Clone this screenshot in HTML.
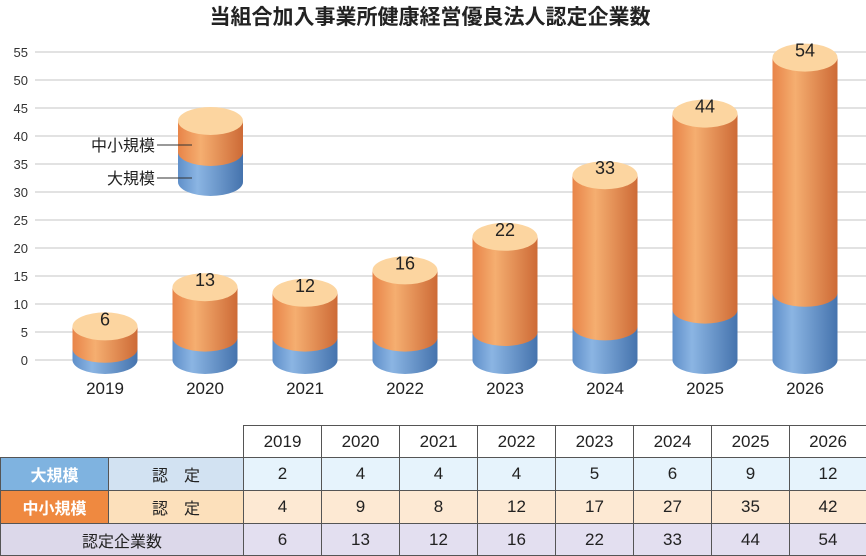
<!DOCTYPE html>
<html><head><meta charset="utf-8"><style>
body{margin:0;width:866px;height:555px;background:#fff;overflow:hidden;font-family:"Liberation Sans","Noto Sans CJK JP",sans-serif;position:relative}
table{position:absolute;left:0;top:425px;border-collapse:collapse;font-size:17px;color:#222;table-layout:fixed;width:866px}
td{border:1px solid #555;text-align:center;height:31px;padding:0}
</style></head><body>
<svg width="866" height="420" style="position:absolute;left:0;top:0" font-family="Liberation Sans, Noto Sans CJK JP, sans-serif">
<defs>
<linearGradient id="b" x1="0" x2="1"><stop offset="0" stop-color="#5f8fc9"/><stop offset="0.3" stop-color="#8bb5e3"/><stop offset="1" stop-color="#4573ad"/></linearGradient>
<linearGradient id="o" x1="0" x2="1"><stop offset="0" stop-color="#e88448"/><stop offset="0.35" stop-color="#f5ae70"/><stop offset="1" stop-color="#cd6a36"/></linearGradient>
</defs>
<text x="430" y="24" text-anchor="middle" font-size="21" font-weight="bold" fill="#222">当組合加入事業所健康経営優良法人認定企業数</text>
<g stroke="#d8d8d8" stroke-width="1.5">
<line x1="35" x2="866" y1="360" y2="360"/><line x1="35" x2="866" y1="332" y2="332"/><line x1="35" x2="866" y1="304" y2="304"/><line x1="35" x2="866" y1="276" y2="276"/><line x1="35" x2="866" y1="248" y2="248"/><line x1="35" x2="866" y1="220" y2="220"/><line x1="35" x2="866" y1="192" y2="192"/><line x1="35" x2="866" y1="164" y2="164"/><line x1="35" x2="866" y1="136" y2="136"/><line x1="35" x2="866" y1="108" y2="108"/><line x1="35" x2="866" y1="80" y2="80"/><line x1="35" x2="866" y1="52" y2="52"/>
</g>
<g font-size="13" fill="#333" text-anchor="end">
<text x="28" y="365">0</text><text x="28" y="337">5</text><text x="28" y="309">10</text><text x="28" y="281">15</text><text x="28" y="253">20</text><text x="28" y="225">25</text><text x="28" y="197">30</text><text x="28" y="169">35</text><text x="28" y="141">40</text><text x="28" y="113">45</text><text x="28" y="85">50</text><text x="28" y="57">55</text>
</g>
<g id="bars"></g>
<rect x="178" y="152" width="65" height="30" fill="url(#b)"/><ellipse cx="210.5" cy="182" rx="32.5" ry="14" fill="url(#b)"/>
<rect x="178" y="121" width="65" height="31" fill="url(#o)"/><ellipse cx="210.5" cy="152" rx="32.5" ry="14" fill="url(#o)"/>
<ellipse cx="210.5" cy="121" rx="32.5" ry="14" fill="#fcd5a0"/>
<line x1="157" x2="192" y1="145" y2="145" stroke="#333"/><line x1="157" x2="192" y1="178" y2="178" stroke="#333"/>
<text x="155" y="151" font-size="16" text-anchor="end" fill="#222">中小規模</text>
<text x="155" y="184" font-size="16" text-anchor="end" fill="#222">大規模</text>
<g font-size="17" fill="#222" text-anchor="middle">
<text x="105" y="394">2019</text><text x="205" y="394">2020</text><text x="305" y="394">2021</text><text x="405" y="394">2022</text><text x="505" y="394">2023</text><text x="605" y="394">2024</text><text x="705" y="394">2025</text><text x="805" y="394">2026</text>
</g>
</svg>
<script>
var d=[[6,2],[13,4],[12,4],[16,4],[22,5],[33,6],[44,9],[54,12]],s='';
d.forEach(function(v,i){var cx=105+100*i,x=cx-32.5,t=360-5.6*v[0],m=360-5.6*v[1];
s+='<rect x="'+x+'" y="'+m+'" width="65" height="'+(360-m)+'" fill="url(#b)"/><ellipse cx="'+cx+'" cy="360" rx="32.5" ry="14" fill="url(#b)"/>';
s+='<rect x="'+x+'" y="'+t+'" width="65" height="'+(m-t)+'" fill="url(#o)"/><ellipse cx="'+cx+'" cy="'+m+'" rx="32.5" ry="14" fill="url(#o)"/>';
s+='<ellipse cx="'+cx+'" cy="'+t+'" rx="32.5" ry="14" fill="#fcd5a0"/><text x="'+cx+'" y="'+(t-1)+'" font-size="18" text-anchor="middle" fill="#222">'+v[0]+'</text>';});
document.getElementById('bars').innerHTML=s;
</script>
<table>
<colgroup><col style="width:108px"><col style="width:135px"><col style="width:78px"><col style="width:78px"><col style="width:78px"><col style="width:78px"><col style="width:78px"><col style="width:78px"><col style="width:78px"><col style="width:77px"></colgroup>
<tr style="height:32px"><td style="border:none"></td><td style="border:none;border-right:1px solid #555"></td><td>2019</td><td>2020</td><td>2021</td><td>2022</td><td>2023</td><td>2024</td><td>2025</td><td>2026</td></tr>
<tr style="background:#e6f3fc;height:33px"><td style="background:#7fb3e0;color:#fff;font-weight:bold;font-size:16px">大規模</td><td style="background:#d2e2f2;font-size:16px">認　定</td><td>2</td><td>4</td><td>4</td><td>4</td><td>5</td><td>6</td><td>9</td><td>12</td></tr>
<tr style="background:#fde9d3;height:33px"><td style="background:#ef8940;color:#fff;font-weight:bold;font-size:16px">中小規模</td><td style="background:#fce0bb;font-size:16px">認　定</td><td>4</td><td>9</td><td>8</td><td>12</td><td>17</td><td>27</td><td>35</td><td>42</td></tr>
<tr style="background:#e3dff0;height:32px"><td colspan="2" style="background:#dcd8ea;font-size:16px">認定企業数</td><td>6</td><td>13</td><td>12</td><td>16</td><td>22</td><td>33</td><td>44</td><td>54</td></tr>
</table>
</body></html>
